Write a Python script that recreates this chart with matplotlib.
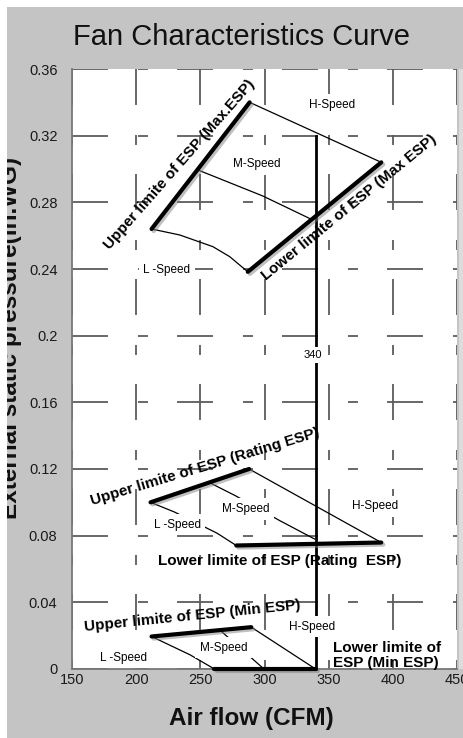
import matplotlib
matplotlib.use("Agg")
import matplotlib.pyplot as plt
import matplotlib.patheffects as pe
from matplotlib.patches import Rectangle

# ---- data ----
x_ticks = [150, 200, 250, 300, 350, 400, 450]
y_ticks = [0, 0.04, 0.08, 0.12, 0.16, 0.2, 0.24, 0.28, 0.32, 0.36]
y_tick_labels = ["0", "0.04", "0.08", "0.12", "0.16", "0.2", "0.24", "0.28", "0.32", "0.36"]

# max ESP group
max_upper_x = [212, 288.4]
max_upper_y = [0.264, 0.340]
max_lower_x = [287, 391]
max_lower_y = [0.2383, 0.304]
max_h_x = [288.4, 391]
max_h_y = [0.340, 0.304]
max_m_x = [249.5, 298.7, 336.3]
max_m_y = [0.299, 0.2838, 0.2699]
max_l_x = [212, 234, 259.8, 272.9, 287]
max_l_y = [0.264, 0.2604, 0.2534, 0.2474, 0.2383]

# rating ESP group
rat_upper_x = [211.2, 288]
rat_upper_y = [0.100, 0.120]
rat_lower_x = [278, 391]
rat_lower_y = [0.0741, 0.0759]
rat_h_x = [288, 391]
rat_h_y = [0.120, 0.0759]
rat_m_x = [258, 277.5, 311.7, 339]
rat_m_y = [0.1115, 0.1039, 0.0891, 0.078]
rat_l_x = [211.2, 230.1, 263, 278]
rat_l_y = [0.100, 0.0941, 0.0815, 0.0741]

# min ESP group
min_upper_x = [212, 289.7]
min_upper_y = [0.0195, 0.0251]
min_lower_x = [261, 340]
min_lower_y = [0.0, 0.0]
min_h_x = [289.7, 339]
min_h_y = [0.0251, 0.0004]
min_m_x = [265, 299]
min_m_y = [0.0235, 0.0004]
min_l_x = [212, 242, 261]
min_l_y = [0.0195, 0.0085, 0.0]

# 340 CFM marker
rated_flow = 340
rated_y = [0, 0.32]

plt.rcParams["font.family"] = ["Liberation Sans", "DejaVu Sans"]
plt.rcParams["lines.scale_dashes"] = False

fig = plt.figure(figsize=(4.63, 7.38), dpi=100)
fig.patch.set_facecolor("#c4c4c4")
ax = fig.add_axes([72 / 463, 69 / 738, 385 / 463, 600 / 738])
ax.set_facecolor("white")

ax.set_xlim(150, 450)
ax.set_ylim(0, 0.36)
ax.set_xticks(x_ticks)
ax.set_xticklabels([str(v) for v in x_ticks])
ax.set_yticks(y_ticks)
ax.set_yticklabels(y_tick_labels)
ax.tick_params(length=0, labelsize=10.5, colors="#1a1a1a")
ax.tick_params(axis="y", pad=10.5)
ax.tick_params(axis="x", pad=3)

ax.set_axisbelow(True)
grid_c = "#5c5c5c"
ax.xaxis.grid(True, color=grid_c, lw=1.3, linestyle=(47.5, (25.9, 20.9, 7.2, 21.6)))
ax.yaxis.grid(True, color=grid_c, lw=1.3, linestyle=(0, (25.9, 21.6, 7.2, 20.9)))
for s in ["top", "right"]:
    ax.spines[s].set_visible(False)
for s in ["left", "bottom"]:
    ax.spines[s].set_color("#777777")
    ax.spines[s].set_linewidth(1.3)

shadow = [pe.SimpleLineShadow(offset=(1.5, -1.5), shadow_color="gray", alpha=0.5), pe.Normal()]
thick = dict(color="black", lw=3, solid_capstyle="round", path_effects=shadow, clip_on=False, zorder=4)
thin = dict(color="black", lw=0.9, clip_on=False, zorder=3)

for xs, ys in [(max_upper_x, max_upper_y), (max_lower_x, max_lower_y),
               (rat_upper_x, rat_upper_y), (rat_lower_x, rat_lower_y),
               (min_upper_x, min_upper_y), (min_lower_x, min_lower_y)]:
    ax.plot(xs, ys, **thick)
for xs, ys in [(max_h_x, max_h_y), (max_m_x, max_m_y), (max_l_x, max_l_y),
               (rat_h_x, rat_h_y), (rat_m_x, rat_m_y), (rat_l_x, rat_l_y),
               (min_h_x, min_h_y), (min_m_x, min_m_y), (min_l_x, min_l_y)]:
    ax.plot(xs, ys, **thin)

ax.plot([rated_flow, rated_flow], rated_y, color="black", lw=2, clip_on=False, zorder=3)

box = dict(boxstyle="square,pad=0.4", fc="white", ec="none")
small = dict(fontsize=8.5, ha="center", va="center", bbox=box, zorder=5)
for x, y, s in [(353, 0.3384, "H-Speed"), (293.6, 0.303, "M-Speed"), (224, 0.2395, "L -Speed"),
                (386.4, 0.0975, "H-Speed"), (285.4, 0.0961, "M-Speed"), (231.9, 0.0866, "L -Speed"),
                (337.4, 0.0254, "H-Speed"), (268, 0.0128, "M-Speed"), (190.4, 0.0068, "L -Speed")]:
    ax.text(x, y, s, **small)
ax.text(338, 0.1885, "340", fontsize=8, ha="center", va="center",
        bbox=dict(boxstyle="square,pad=0.3", fc="white", ec="none"), zorder=5)

big = dict(fontsize=11, fontweight="bold", ha="center", va="center", rotation_mode="anchor", zorder=6)
ax.text(234, 0.3024, "Upper limite of ESP (Max.ESP)", rotation=48.7, **big)
ax.text(366, 0.277, "Lower limite of ESP (Max ESP)", rotation=39.3, **big)
ax.text(253.4, 0.121, "Upper limite of ESP (Rating ESP)", rotation=16.8, **big)
ax.text(311.7, 0.0645, "Lower limite of ESP (Rating  ESP)", **big)
ax.text(244, 0.032, "Upper limite of ESP (Min ESP)", rotation=5.8, **big)
ax.text(353, 0.008, "Lower limite of\nESP (Min ESP)", fontsize=11, fontweight="bold",
        ha="left", va="center", linespacing=1.15, zorder=6)

fig.text(242 / 463, 1 - 37 / 738, "Fan Characteristics Curve", fontsize=21,
         ha="center", va="center", color="#111111")
fig.text(251 / 463, 1 - 718 / 738, "Air flow (CFM)", fontsize=17.5, fontweight="bold",
         ha="center", va="center", color="#111111")
fig.text(10.5 / 463, 1 - 338 / 738, "External static pressure(in.WG)", fontsize=17.5,
         fontweight="bold", rotation=90, ha="center", va="center", color="#111111")

# white page strips at top / left and light strip on the right edge
fig.patches.append(Rectangle((0, 0), 7 / 463, 1, transform=fig.transFigure,
                             fc="white", ec="none", zorder=20))
fig.patches.append(Rectangle((0, 1 - 7 / 738), 1, 7 / 738, transform=fig.transFigure,
                             fc="white", ec="none", zorder=20))
fig.patches.append(Rectangle((459 / 463, 69 / 738), 4 / 463, 600 / 738, transform=fig.transFigure,
                             fc="#dcdcdc", ec="none", zorder=1))

fig.savefig("out.png", dpi=100, facecolor=fig.get_facecolor())
